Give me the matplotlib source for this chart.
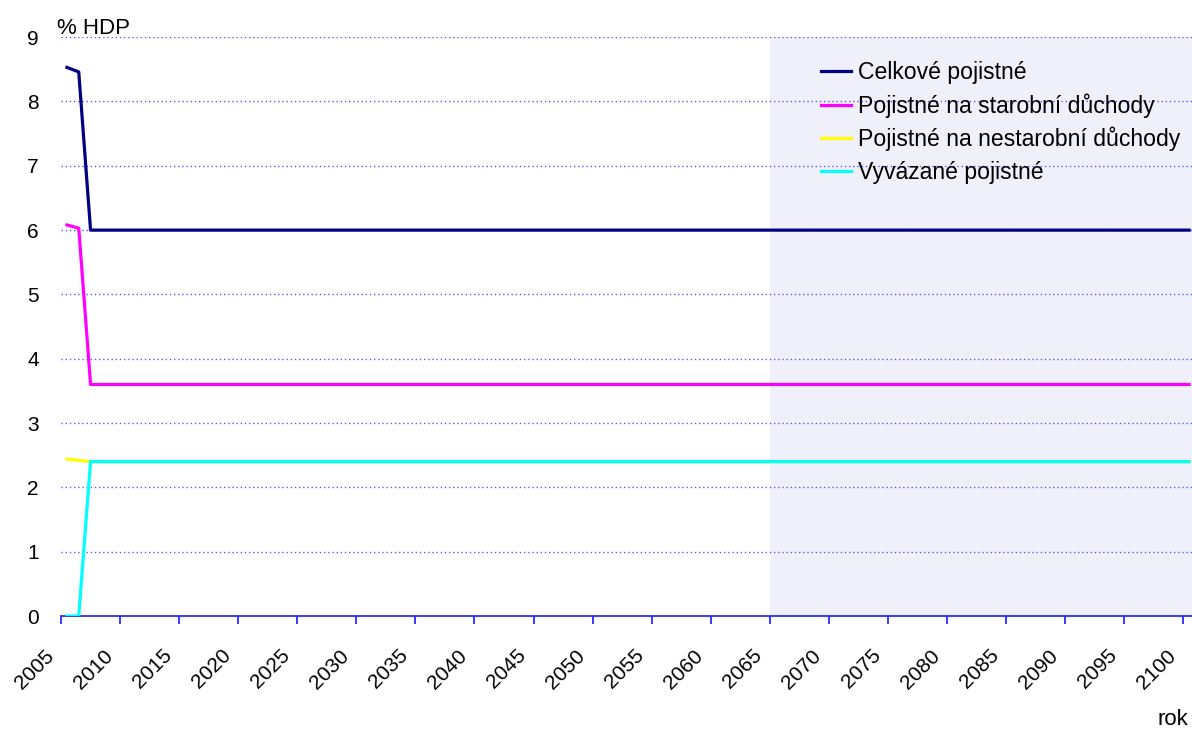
import numpy as np
import matplotlib.pyplot as plt
import matplotlib.transforms as mtransforms

plt.rcParams['font.family'] = ['Liberation Sans', 'DejaVu Sans']

years = np.arange(2005, 2101)
celkove_start = [8.53, 8.46]
starobni_start = [6.08, 6.03]
nestarobni_start = [2.44, 2.42]
vyvazane_start = [0.0, 0.0]
celkove_level = 6.0
starobni_level = 3.6
nestarobni_level = 2.4
vyvazane_level = 2.4
n_rest = len(years) - 2

celkove = np.array(celkove_start + [celkove_level] * n_rest)
starobni = np.array(starobni_start + [starobni_level] * n_rest)
nestarobni = np.array(nestarobni_start + [nestarobni_level] * n_rest)
vyvazane = np.array(vyvazane_start + [vyvazane_level] * n_rest)

shade_from = 2065
tick_years = np.arange(2005, 2101, 5)

# categories are centred between tick marks
x = years - 2005 + 0.5

fig = plt.figure(figsize=(11.92, 7.29), dpi=100)
ax = fig.add_axes([0.0512, 0.155, 0.9513, 0.794])

ax.axvspan(shade_from - 2005, len(years), color='#f0f0fa', zorder=0, lw=0)
for yv in range(1, 10):
    ax.axhline(yv, color='#5a5aff', lw=1, ls=(0, (1, 2)), zorder=1)

ax.plot(x, celkove, color='#000080', lw=2.3, label='Celkové pojistné', zorder=3)
ax.plot(x, starobni, color='#ff00ff', lw=2.3, label='Pojistné na starobní důchody', zorder=3)
ax.plot(x, nestarobni, color='#ffff00', lw=2.3, label='Pojistné na nestarobní důchody', zorder=3)
ax.plot(x, vyvazane, color='#00ffff', lw=2.3, label='Vyvázané pojistné', zorder=4)

ax.set_xlim(0, len(years))
ax.set_ylim(0, 9)
ax.set_xticks(tick_years - 2005)
ax.set_xticklabels([])
# rotated year labels, placed a little left of each tick like the original
lab_tr = ax.get_xaxis_transform() + mtransforms.ScaledTranslation(-0.17, -0.30, fig.dpi_scale_trans)
for yr in tick_years:
    ax.text(yr - 2005, 0, str(yr), transform=lab_tr, rotation=45, ha='right', va='top',
            rotation_mode='anchor', fontsize=15, clip_on=False)

ax.set_yticks(range(0, 10))
ax.tick_params(axis='y', length=0, labelsize=15, pad=16)
ax.tick_params(axis='x', direction='out', length=5.5, color='#2a2aff', width=1.3)

for s in ['top', 'right', 'left']:
    ax.spines[s].set_visible(False)
ax.spines['bottom'].set_color('#2a2aff')
ax.spines['bottom'].set_linewidth(1.3)

fig.text(0.048, 0.953, '% HDP', fontsize=16, ha='left', va='baseline')
fig.text(0.997, 0.006, 'rok', fontsize=16, ha='right', va='baseline')

leg = ax.legend(loc='upper left', bbox_to_anchor=(0.662, 0.975), frameon=False,
                fontsize=16.6, handlelength=1.3, handletextpad=0.3, labelspacing=0.4,
                borderaxespad=0)

fig.savefig('out.png', dpi=100)
